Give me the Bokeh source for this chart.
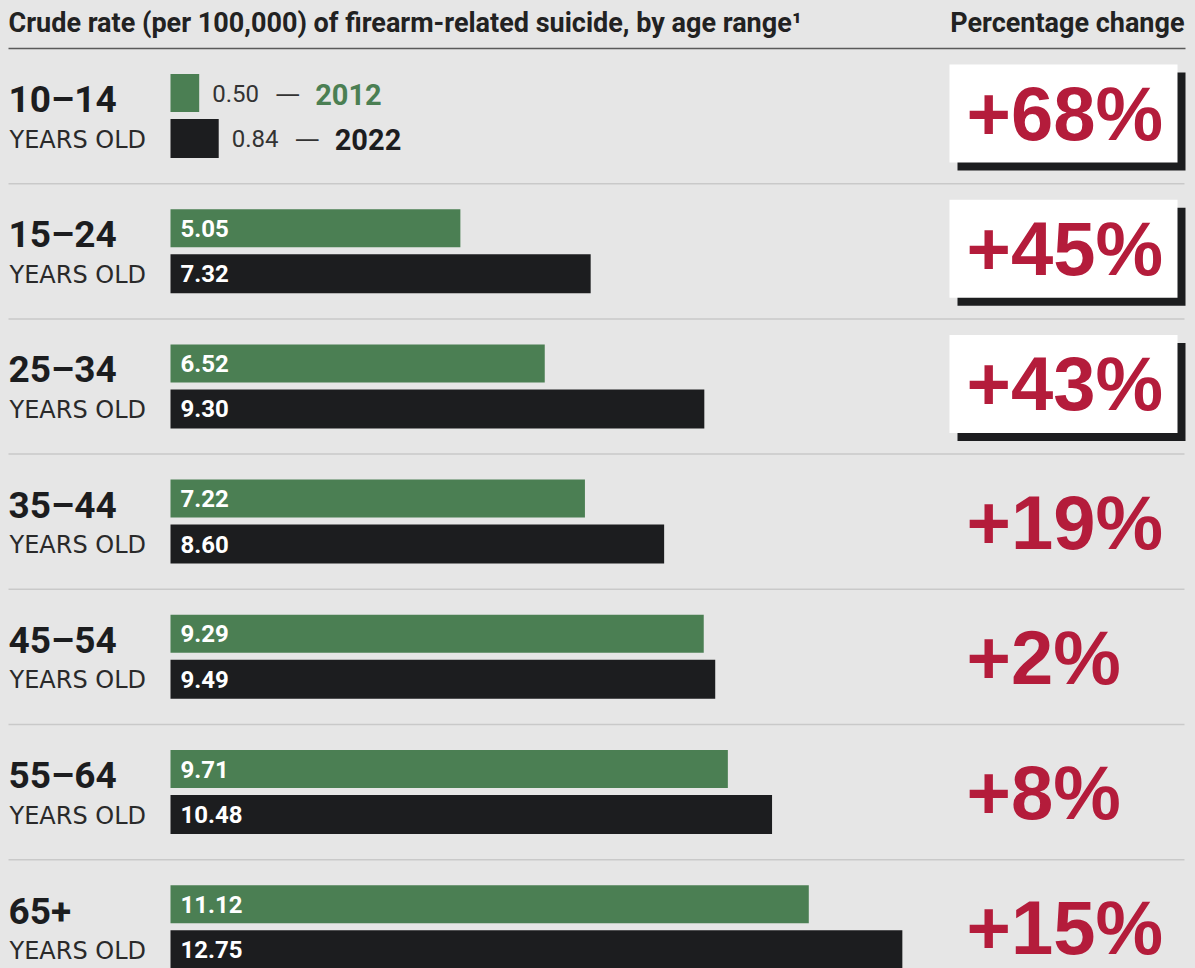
from bokeh.plotting import figure
from bokeh.models import Range1d
from bokeh.core.properties import value
from bokeh.embed import file_html
from bokeh.resources import INLINE

# ---------------- data ----------------
ages = ["10–14", "15–24", "25–34", "35–44", "45–54", "55–64", "65+"]
rate_2012 = [0.50, 5.05, 6.52, 7.22, 9.29, 9.71, 11.12]
rate_2022 = [0.84, 7.32, 9.30, 8.60, 9.49, 10.48, 12.75]
pct_change = [68, 45, 43, 19, 2, 8, 15]
years = ["2012", "2022"]
title_left = "Crude rate (per 100,000) of firearm-related suicide, by age range¹"
title_right = "Percentage change"
sub_label = "YEARS OLD"
boxed_count = 3  # the largest changes are shown in a box

# ---------------- layout / style ----------------
W, H = 1195, 968
BG = "#e6e6e6"
GREEN = "#4b7f53"
BLACK = "#1c1d1f"
RED = "#b41c3b"
SEP = "#c9c9c9"
X0 = 170            # px of value 0
PXU = 57.4          # px per unit
ROW0 = 48           # header rule (px)
ROWH = 135.2
LX = 8              # left text edge
FONT = value("Roboto")
PFONT = value("Liberation Sans")

p = figure(width=W, height=H, output_backend="svg", toolbar_location=None,
           x_range=Range1d(-X0 / PXU, (W - X0) / PXU), y_range=Range1d(H, 0),
           x_axis_location=None, y_axis_location=None, min_border=0,
           background_fill_color=BG, border_fill_color=BG, outline_line_color=None)
p.grid.visible = False
p.extra_x_ranges = {"px": Range1d(0, W)}

n = len(ages)
tops = [ROW0 + ROWH * i for i in range(n)]
c12 = [t + 44.5 for t in tops]
c22 = [t + 90 for t in tops]

# header
p.text(x=[LX], y=[ROW0 - 26], text=[title_left], x_range_name="px",
       text_font=FONT, text_font_style="bold", text_font_size="27px",
       text_color="#222222", text_baseline="middle", text_align="left")
p.text(x=[1184], y=[ROW0 - 26], text=[title_right], x_range_name="px",
       text_font=FONT, text_font_style="bold", text_font_size="27px",
       text_color="#222222", text_baseline="middle", text_align="right")
p.segment(x0=[LX], x1=[1185], y0=[ROW0], y1=[ROW0], x_range_name="px",
          line_color="#5a5a5a", line_width=1.5)

# row separators
p.segment(x0=[LX] * (n - 1), x1=[1184] * (n - 1), y0=tops[1:], y1=tops[1:],
          x_range_name="px", line_color=SEP, line_width=1.5)

# bars
p.hbar(y=c12, left=0, right=rate_2012, height=38, fill_color=GREEN, line_color=None)
p.hbar(y=c22, left=0, right=rate_2022, height=39, fill_color=BLACK, line_color=None)

# value labels
for vals, cs, yr, ycol in [(rate_2012, c12, years[0], GREEN), (rate_2022, c22, years[1], BLACK)]:
    for v, c in zip(vals, cs):
        end_px = X0 + v * PXU
        if v * PXU > 70:
            p.text(x=[X0 + 10], y=[c], text=[f"{v:.2f}"], x_range_name="px",
                   text_font=FONT, text_font_style="bold", text_font_size="24px",
                   text_color="white", text_baseline="middle", text_align="left")
        else:
            p.text(x=[end_px + 13], y=[c], text=[f"{v:.2f}"], x_range_name="px",
                   text_font=FONT, text_font_size="24px",
                   text_color="#333333", text_baseline="middle", text_align="left")
            p.text(x=[end_px + 76], y=[c], text=["—"], x_range_name="px",
                   text_font=value("DejaVu Sans"), text_font_size="25px",
                   text_color="#333333", text_baseline="middle", text_align="left")
            p.text(x=[end_px + 116], y=[c + 1], text=[yr], x_range_name="px",
                   text_font=FONT, text_font_style="bold", text_font_size="29px",
                   text_color=ycol, text_baseline="middle", text_align="left")

# age labels
p.text(x=[LX] * n, y=[t + 51 for t in tops], text=ages, x_range_name="px",
       text_font=FONT, text_font_style="bold", text_font_size="37px",
       text_color="#1c1d1f", text_baseline="middle", text_align="left")
p.text(x=[LX + 1] * n, y=[t + 91 for t in tops], text=[sub_label] * n, x_range_name="px",
       text_font=value("DejaVu Sans"), text_font_size="24px",
       text_color="#2a2a2a", text_baseline="middle", text_align="left")

# percentage change
order = sorted(range(n), key=lambda i: -pct_change[i])[:boxed_count]
BL, BR = 949, 1177
for i in order:
    t = tops[i]
    p.quad(left=[BL + 8], right=[BR + 8], top=[t + 24], bottom=[t + 122],
           x_range_name="px", fill_color=BLACK, line_color=None)
    p.quad(left=[BL], right=[BR], top=[t + 16], bottom=[t + 114],
           x_range_name="px", fill_color="white", line_color=None)
pct_y = [t + (65 if i in order else 68) for i, t in enumerate(tops)]
p.text(x=[966] * n, y=pct_y,
       text=[f"+{v}%" for v in pct_change], x_range_name="px",
       text_font=PFONT, text_font_style="bold", text_font_size="76px",
       text_color=RED, text_baseline="middle", text_align="left")

html = file_html(p, INLINE)
html = html.replace("<head>", "<head><style>body{background:#e6e6e6;}</style>", 1)
open("out.html", "w").write(html)
